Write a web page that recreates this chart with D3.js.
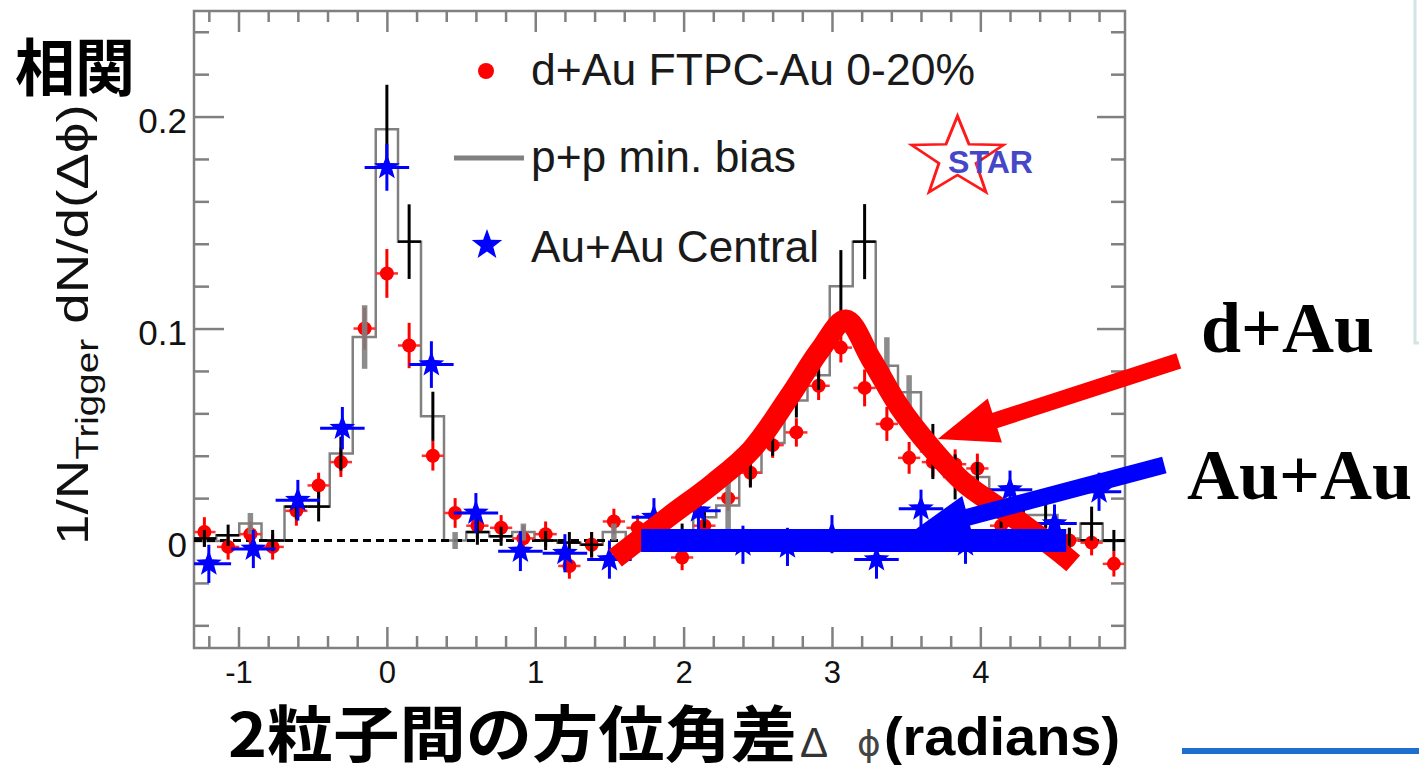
<!DOCTYPE html>
<html><head><meta charset="utf-8">
<script src="https://cdn.jsdelivr.net/npm/d3@7"></script>
<style>
html,body{margin:0;padding:0;background:#fff;}
svg{display:block;}
</style></head><body>
<svg id="c" width="1419" height="765"></svg>
<script>
// ---------------- DATA ----------------
const xDomain = [-1.30, 4.975];
const yDomain = [-0.0507, 0.2498];

// d+Au FTPC-Au 0-20% and p+p bins (bin centers, radians)
const binCenters = [-1.23,-1.07,-0.92,-0.77,-0.61,-0.46,-0.31,-0.15,0,0.15,0.31,0.46,0.61,0.77,0.92,1.07,1.23,1.38,1.53,1.69,1.84,1.99,2.14,2.30,2.45,2.60,2.76,2.91,3.06,3.22,3.37,3.52,3.68,3.83,3.98,4.14,4.29,4.44,4.60,4.75,4.90];
const dAuValues = [0.004,-0.003,0.003,-0.003,0.014,0.026,0.037,0.100,0.126,0.092,0.040,0.013,0.007,0.006,0.001,0.003,-0.012,-0.002,0.009,0.006,0.002,-0.008,0.007,0.020,0.032,0.045,0.051,0.073,0.091,0.072,0.055,0.039,0.037,0.036,0.034,0.007,0.005,0.002,0.000,-0.001,-0.011];
const dAuErrors = [0.007,0.006,0.006,0.006,0.007,0.006,0.007,0.010,0.0115,0.0107,0.007,0.007,0.006,0.006,0.006,0.006,0.006,0.006,0.006,0.006,0.006,0.006,0.006,0.006,0.006,0.006,0.0067,0.0067,0.007,0.0087,0.008,0.0075,0.007,0.007,0.007,0.006,0.006,0.006,0.006,0.006,0.006];

// p+p min. bias histogram
const ppValues = [0.001,0.0025,0.008,0.000,0.016,0.016,0.041,0.096,0.194,0.141,0.0586,0.000,0.004,0.002,0.004,0.000,-0.001,-0.002,0.004,0.000,0.001,0.002,0.011,0.0165,0.032,0.046,0.066,0.078,0.120,0.141,0.0825,0.070,0.042,0.030,0.030,0.012,0.012,0.012,0.001,0.008,0.000];
const ppErrors = [0.004,0.005,0.005,0.005,0.006,0.007,0.008,0.015,0.021,0.0176,0.0116,0.004,0.006,0.0045,0.004,0.0045,0.005,0.006,0.004,0.005,0.005,0.006,0.005,0.016,0.007,0.006,0.008,0.007,0.017,0.0177,0.0134,0.008,0.013,0.0106,0.007,0.006,0.006,0.006,0.005,0.008,0.005];
const ppGrayErrBins = [-0.92,-0.15,0.46,0.92,1.53,2.30,3.37,3.52];
const ppCrossBins = [-1.23,-1.07,-0.77,-0.61,-0.46,0.15,0.61,0.77,1.07,1.23,1.38,3.22,4.75,4.90];

// Au+Au Central
const auauX = [-1.2,-0.9,-0.6,-0.3,0,0.3,0.6,0.9,1.2,1.5,1.8,2.1,2.4,2.7,3.0,3.3,3.6,3.9,4.2,4.5,4.8];
const auauValues = [-0.011,-0.004,0.019,0.053,0.176,0.083,0.013,-0.005,-0.006,-0.009,0.011,0.014,-0.002,-0.003,0.003,-0.009,0.015,-0.002,0.024,0.008,0.023];
const auauErrors = [0.009,0.009,0.0096,0.010,0.011,0.011,0.0094,0.0094,0.009,0.009,0.009,0.009,0.009,0.009,0.009,0.009,0.009,0.009,0.009,0.009,0.009];
const auauHalfBin = 0.15;

// hand-drawn guide lines (annotation)
const dAuGuideX = [1.540,1.900,2.201,2.456,2.712,2.920,3.094,3.268,3.454,3.663,3.895,4.218,4.544,4.626];
const dAuGuideY = [-0.0083,0.0112,0.027,0.0427,0.0678,0.0899,0.104,0.0851,0.0631,0.0442,0.027,0.0112,-0.006,-0.0108];
const auauGuideX = [1.714, 4.579];
const auauGuideY = [0, 0];
const dAuArrow = {from:[5.337,0.0847], to:[3.713,0.0479]};
const auauArrow = {from:[5.240,0.0356], to:[3.538,0.0040]};

// ticks
const xMajor = [-1,0,1,2,3,4];
const xTickLabels = ["-1","0","1","2","3","4"];
const xMinor = [-1.2,-0.8,-0.6,-0.4,-0.2,0.2,0.4,0.6,0.8,1.2,1.4,1.6,1.8,2.2,2.4,2.6,2.8,3.2,3.4,3.6,3.8,4.2,4.4,4.6,4.8];
const yMajor = [0,0.1,0.2];
const yTickLabels = ["0","0.1","0.2"];
const yMinor = [-0.04,-0.02,0.02,0.04,0.06,0.08,0.12,0.14,0.16,0.18,0.22,0.24];

const legendLabels = ["d+Au FTPC-Au 0-20%","p+p min. bias","Au+Au Central"];

// ---------------- DRAW ----------------
const svg = d3.select("#c");
const plot = {l:194, r:1125, t:11, b:648};
const x = d3.scaleLinear().domain(xDomain).range([plot.l, plot.r]);
const y = d3.scaleLinear().domain(yDomain).range([plot.b, plot.t]);
const GRAY = "#808080";
const SANS = "'Liberation Sans', Arial, Helvetica, sans-serif";
const CJK = "'Noto Sans CJK JP', 'Noto Sans CJK SC', sans-serif";

svg.append("rect").attr("width",1419).attr("height",765).attr("fill","#fff");

svg.append("clipPath").attr("id","pc").append("rect")
  .attr("x",plot.l).attr("y",plot.t).attr("width",plot.r-plot.l).attr("height",plot.b-plot.t);

// axes (inward ticks)
function styleAxis(g){
  g.select(".domain").remove();
  g.selectAll(".tick line").attr("stroke",GRAY).attr("stroke-width",2.5);
  g.selectAll(".tick text").attr("fill","#111").attr("font-family",SANS);
}
svg.append("g").attr("transform",`translate(0,${plot.b})`)
  .call(d3.axisBottom(x).tickValues(xMinor).tickSize(-12).tickFormat("")).call(styleAxis);
svg.append("g").attr("transform",`translate(0,${plot.b})`)
  .call(d3.axisBottom(x).tickValues(xMajor).tickSize(-21).tickPadding(13).tickFormat((d,i)=>xTickLabels[i]))
  .call(styleAxis).call(g=>g.selectAll(".tick text").attr("font-size",31));
svg.append("g").attr("transform",`translate(0,${plot.t})`)
  .call(d3.axisTop(x).tickValues(xMinor).tickSize(-11).tickFormat("")).call(styleAxis);
svg.append("g").attr("transform",`translate(0,${plot.t})`)
  .call(d3.axisTop(x).tickValues(xMajor).tickSize(-21).tickFormat("")).call(styleAxis);
svg.append("g").attr("transform",`translate(${plot.l},0)`)
  .call(d3.axisLeft(y).tickValues(yMinor).tickSize(-15).tickFormat("")).call(styleAxis);
svg.append("g").attr("transform",`translate(${plot.l},0)`)
  .call(d3.axisLeft(y).tickValues(yMajor).tickSize(-30).tickPadding(7).tickFormat((d,i)=>yTickLabels[i]))
  .call(styleAxis).call(g=>g.selectAll(".tick text").attr("font-size",35).attr("dy","0.45em"));
svg.append("g").attr("transform",`translate(${plot.r},0)`)
  .call(d3.axisRight(y).tickValues(yMinor).tickSize(-14).tickFormat("")).call(styleAxis);
svg.append("g").attr("transform",`translate(${plot.r},0)`)
  .call(d3.axisRight(y).tickValues(yMajor).tickSize(-28).tickFormat("")).call(styleAxis);

// frame
svg.append("rect").attr("x",plot.l).attr("y",plot.t).attr("width",plot.r-plot.l).attr("height",plot.b-plot.t)
  .attr("fill","none").attr("stroke",GRAY).attr("stroke-width",2.5);

const data = svg.append("g").attr("clip-path","url(#pc)");

// p+p histogram steps
const edges = binCenters.map((c,i)=> i===0 ? xDomain[0] : (binCenters[i-1]+c)/2);
edges.push(xDomain[1]);
const stepPts = ppValues.map((v,i)=>[edges[i],v]);
stepPts.push([edges[edges.length-1], ppValues[ppValues.length-1]]);
data.append("path").datum(stepPts)
  .attr("d", d3.line().x(d=>x(d[0])).y(d=>y(d[1])).curve(d3.curveStepAfter))
  .attr("fill","none").attr("stroke",GRAY).attr("stroke-width",2.5);

// zero dashed line
data.append("line").attr("x1",x(xDomain[0])).attr("x2",x(xDomain[1]))
  .attr("y1",y(0)).attr("y2",y(0)).attr("stroke","#000").attr("stroke-width",3)
  .attr("stroke-dasharray","8,5");

// d+Au points
const red = data.append("g");
binCenters.forEach((c,i)=>{
  const v = dAuValues[i], e = dAuErrors[i];
  red.append("line").attr("x1",x(c)).attr("x2",x(c)).attr("y1",y(v-e)).attr("y2",y(v+e))
    .attr("stroke","#ff0000").attr("stroke-width",3);
  red.append("line").attr("x1",x(c-0.075)).attr("x2",x(c+0.075)).attr("y1",y(v)).attr("y2",y(v))
    .attr("stroke","#ff3030").attr("stroke-width",2.5);
  red.append("circle").attr("cx",x(c)).attr("cy",y(v)).attr("r",7).attr("fill","#ff0000");
});

// p+p error bars
const ppg = data.append("g");
binCenters.forEach((c,i)=>{
  const v = ppValues[i], e = ppErrors[i];
  const gray = ppGrayErrBins.includes(c);
  ppg.append("line").attr("x1",x(c)).attr("x2",x(c)).attr("y1",y(v-e)).attr("y2",y(v+e))
    .attr("stroke", gray ? GRAY : "#000").attr("stroke-width", gray ? 5.5 : 3)
    .attr("opacity", gray ? 0.9 : 1);
  if (ppCrossBins.includes(c)) {
    ppg.append("line").attr("x1",x(edges[i])).attr("x2",x(edges[i+1])).attr("y1",y(v)).attr("y2",y(v))
      .attr("stroke","#000").attr("stroke-width",2.5);
  }
});

// star path
function starPath(R, r){
  const pts=[];
  for(let k=0;k<10;k++){
    const a = -Math.PI/2 + k*Math.PI/5;
    const rr = k%2===0 ? R : r;
    pts.push([rr*Math.cos(a), rr*Math.sin(a)]);
  }
  return "M"+pts.map(p=>p[0].toFixed(2)+","+p[1].toFixed(2)).join("L")+"Z";
}

// Au+Au points
const blue = data.append("g");
auauX.forEach((c,i)=>{
  const v = auauValues[i], e = auauErrors[i];
  blue.append("line").attr("x1",x(c)).attr("x2",x(c)).attr("y1",y(v-e)).attr("y2",y(v+e))
    .attr("stroke","#0000ff").attr("stroke-width",3);
  blue.append("line").attr("x1",x(c-auauHalfBin)).attr("x2",x(c+auauHalfBin)).attr("y1",y(v)).attr("y2",y(v))
    .attr("stroke","#0000ff").attr("stroke-width",3);
  blue.append("path").attr("d",starPath(13.5,5.6)).attr("transform",`translate(${x(c)},${y(v)})`)
    .attr("fill","#0000ff");
});

// guide: red thick curve
const guide = svg.append("g");
guide.append("path").datum(dAuGuideX.map((d,i)=>[d,dAuGuideY[i]]))
  .attr("d", d3.line().x(d=>x(d[0])).y(d=>y(d[1])).curve(d3.curveCatmullRom.alpha(0.5)))
  .attr("fill","none").attr("stroke","#ff0000").attr("stroke-width",21)
  .attr("stroke-linejoin","round").attr("stroke-linecap","butt");

// arrows
function arrow(g, a, color, shaftW, headL, headW){
  const x0=x(a.from[0]), y0=y(a.from[1]), x1=x(a.to[0]), y1=y(a.to[1]);
  const dx=x1-x0, dy=y1-y0, len=Math.hypot(dx,dy), ux=dx/len, uy=dy/len;
  const bx=x1-ux*headL, by=y1-uy*headL;
  g.append("line").attr("x1",x0).attr("y1",y0).attr("x2",bx+ux*2).attr("y2",by+uy*2)
    .attr("stroke",color).attr("stroke-width",shaftW);
  g.append("path").attr("d",`M${x1},${y1}L${bx-uy*headW},${by+ux*headW}L${bx+uy*headW},${by-ux*headW}Z`)
    .attr("fill",color);
}
arrow(guide, dAuArrow, "#ff0000", 16, 60, 23);

// guide: blue thick line
guide.append("path").datum(auauGuideX.map((d,i)=>[d,auauGuideY[i]]))
  .attr("d", d3.line().x(d=>x(d[0])).y(d=>y(d[1])))
  .attr("fill","none").attr("stroke","#0000ff").attr("stroke-width",23);
arrow(guide, auauArrow, "#0000ff", 17, 58, 22);

// legend
const lg = svg.append("g");
lg.append("circle").attr("cx",486).attr("cy",71).attr("r",8).attr("fill","#ff0000");
lg.append("line").attr("x1",454).attr("x2",524).attr("y1",158).attr("y2",158).attr("stroke",GRAY).attr("stroke-width",5);
lg.append("path").attr("d",starPath(16,6.6)).attr("transform","translate(487,245)").attr("fill","#0000ff");
const legY=[85,172,262], legLen=[444,265,288];
legendLabels.forEach((t,i)=>{
  lg.append("text").attr("x",531).attr("y",legY[i]).text(t)
    .attr("font-family",SANS).attr("font-size",45).attr("fill","#1a1a1a")
    .attr("textLength",legLen[i]).attr("lengthAdjust","spacingAndGlyphs");
});

// STAR logo
const logo = svg.append("g");
logo.append("path").attr("d",starPath(42,17)).attr("transform","translate(957.5,158) scale(1.15,1)")
  .attr("fill","none").attr("stroke","#ff1a1a").attr("stroke-width",2.6);
logo.append("text").attr("x",948).attr("y",173).text("STAR")
  .attr("font-family",SANS).attr("font-weight","bold").attr("font-size",31).attr("fill","#4646c8")
  .attr("textLength",85).attr("lengthAdjust","spacingAndGlyphs");

// y-axis title (stretched along its length like the reference)
const yt = svg.append("text").attr("transform","translate(88,545) rotate(-90) scale(1.245,1)")
  .attr("font-family",SANS).attr("font-size",44).attr("fill","#111");
yt.append("tspan").text("1/N");
yt.append("tspan").attr("font-size",31).attr("dy",10).text("Trigger");
yt.append("tspan").attr("dy",-10).text(" dN/d(Δϕ)");

// 相関
svg.append("text").attr("x",15).attr("y",91).text("相関")
  .attr("font-family",CJK).attr("font-weight","bold").attr("font-size",62).attr("fill","#000")
  .attr("textLength",120).attr("lengthAdjust","spacingAndGlyphs");

// x-axis title
svg.append("text").attr("x",228).attr("y",757).text("2粒子間の方位角差")
  .attr("font-family",CJK).attr("font-weight","bold").attr("font-size",61).attr("fill","#000")
  .attr("textLength",569).attr("lengthAdjust","spacingAndGlyphs");
svg.append("text").attr("x",800).attr("y",757).text("Δ")
  .attr("font-family",SANS).attr("font-size",42).attr("fill","#333");
svg.append("text").attr("x",857).attr("y",756).text("ϕ")
  .attr("font-family","'DejaVu Sans', sans-serif").attr("font-size",36).attr("fill","#444");
svg.append("text").attr("x",884).attr("y",755).text("(radians)")
  .attr("font-family",SANS).attr("font-weight","bold").attr("font-size",53).attr("fill","#000")
  .attr("textLength",236).attr("lengthAdjust","spacingAndGlyphs");

// annotations
svg.append("text").attr("x",1201).attr("y",352).text("d+Au")
  .attr("font-family","'Liberation Serif', 'Times New Roman', serif").attr("font-weight","bold")
  .attr("font-size",72).attr("fill","#000");
svg.append("text").attr("x",1187).attr("y",499).text("Au+Au")
  .attr("font-family","'Liberation Serif', 'Times New Roman', serif").attr("font-weight","bold")
  .attr("font-size",72).attr("fill","#000");

// slide decorations
svg.append("path").attr("d","M1415,0L1415,343L1419,343").attr("fill","none")
  .attr("stroke","#d3e4e4").attr("stroke-width",3);
svg.append("rect").attr("x",1182).attr("y",748).attr("width",237).attr("height",6).attr("fill","#1f6fd1");
</script>
</body></html>
